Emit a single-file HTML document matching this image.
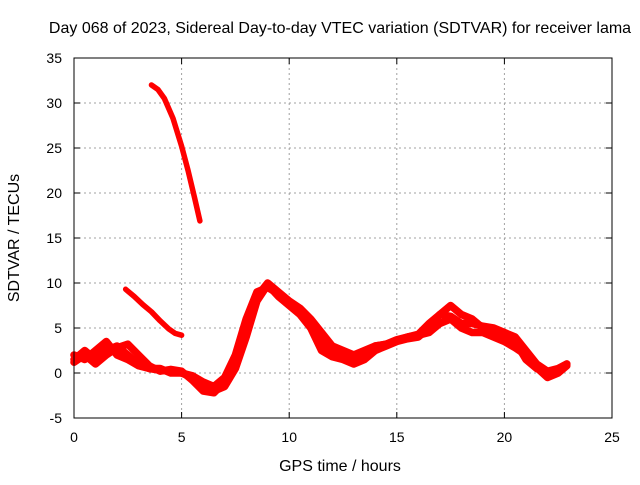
<!DOCTYPE html>
<html><head><meta charset="utf-8"><style>
body{margin:0;background:#fff}
svg text{font-family:"Liberation Sans",sans-serif;font-size:14px;fill:#000}
svg text.big{font-size:16px}
</style></head><body>
<svg id="c" width="640" height="480">
<rect width="640" height="480" fill="#fff"/>
<text class="big" x="340" y="33" text-anchor="middle">Day 068 of 2023, Sidereal Day-to-day VTEC variation (SDTVAR) for receiver lama</text>
<text class="big" x="340" y="471" text-anchor="middle">GPS time / hours</text>
<text class="big" transform="translate(19,238) rotate(-90)" text-anchor="middle">SDTVAR / TECUs</text>
<g id="grid"></g><g id="series"></g><g id="axes"></g>
</svg>
<script>
const xTicks=[0,5,10,15,20,25];
const yTicks=[-5,0,5,10,15,20,25,30,35];
const seriesSteepT=[3.6,3.9,4.2,4.6,5.0,5.3,5.6,5.85];
const seriesSteepV=[32,31.5,30.5,28.3,25.2,22.5,19.5,16.9];
const seriesSlopeT=[2.4,2.8,3.2,3.6,4.0,4.4,4.7,5.0];
const seriesSlopeV=[9.3,8.5,7.6,6.8,5.8,4.9,4.4,4.2];
const mainT=[0,0.5,1,1.5,2,2.5,3,3.5,4,4.5,5,5.5,6,6.5,7,7.5,8,8.5,9,9.5,10,10.5,11,11.5,12,12.5,13,13.5,14,14.5,15,15.5,16,16.5,17,17.5,18,18.5,19,19.5,20,20.5,21,21.5,22,22.5,22.9];
const main1V=[2,1.5,2.5,3.5,2,1.5,0.8,0.5,0.3,0.2,0,-0.5,-1.5,-2,-1.5,0.5,4,8,9.8,8.5,7.5,6.5,5,2.5,1.8,1.5,1,1.5,2.5,3,3.5,3.8,4,5,6.5,7.5,6.5,6,5,4.5,4,3.5,1.5,0.5,0,0.3,1];
const main2V=[1.5,2.5,1.5,2.5,3,2,1,0.5,0.5,0,0,-0.3,-1,-1.5,-0.5,2,6,9,9.5,8.8,7.8,7,5.8,3.5,2.5,2,1.5,2,3,3.2,3.6,4,4.3,5.5,6.5,6.3,5.5,5.5,5.2,5,4.5,4,2.5,1,0.2,0.5,1];
const main3V=[1.2,2,1,2,2.8,3.2,2,0.8,0.2,0.4,0.2,-0.8,-2,-2.2,-1,1,5,8.5,10,9,8,7.2,6,4.5,3,2.5,2,2.5,3,3.2,3.7,4,4.2,4.5,5.5,6,5,4.5,4.5,4,3.5,2.8,2,0.6,-0.5,0,0.8];
const X=t=>74+t*538/25, Y=v=>418-(v+5)*9;
const NS="http://www.w3.org/2000/svg";
function mk(tag,attrs,parent){const e=document.createElementNS(NS,tag);for(const k in attrs)e.setAttribute(k,attrs[k]);document.getElementById(parent).appendChild(e);return e;}
xTicks.forEach(t=>{
 if(t>0&&t<25){const g=mk('line',{x1:X(t),x2:X(t),y1:58,y2:418,stroke:'#a0a0a0','stroke-dasharray':'2,3'},'grid');
 
 }
 const l=mk('text',{x:X(t),y:442,'text-anchor':'middle'},'axes');l.textContent=t;
 
 
 mk('line',{x1:X(t),x2:X(t),y1:418,y2:412,stroke:'#000'},'axes');
 mk('line',{x1:X(t),x2:X(t),y1:58,y2:64,stroke:'#000'},'axes');
});
yTicks.forEach(v=>{
 if(v>-5&&v<35){const g=mk('line',{x1:74,x2:612,y1:Y(v),y2:Y(v),stroke:'#a0a0a0','stroke-dasharray':'2,3'},'grid');
 
 }
 const l=mk('text',{x:62,y:Y(v)+5,'text-anchor':'end'},'axes');l.textContent=v;
 
 
 mk('line',{x1:74,x2:80,y1:Y(v),y2:Y(v),stroke:'#000'},'axes');
 mk('line',{x1:612,x2:606,y1:Y(v),y2:Y(v),stroke:'#000'},'axes');
});
const fr=mk('rect',{x:74,y:58,width:538,height:360,fill:'none',stroke:'#000'},'axes');


function line(T,V,name,w){
 const p=mk('polyline',{points:T.map((t,i)=>X(t)+','+Y(V[i])).join(' '),fill:'none',stroke:'#f00','stroke-width':w,'stroke-linejoin':'round','stroke-linecap':'round'},'series');
 
 
}
line(seriesSteepT,seriesSteepV,'series-steep-arc',5.5);
line(seriesSlopeT,seriesSlopeV,'series-slope-arc',5.5);
line(mainT,main1V,'series-main-1',7.5);
line(mainT,main2V,'series-main-2',7.5);
line(mainT,main3V,'series-main-3',7.5);
</script>
</body></html>
